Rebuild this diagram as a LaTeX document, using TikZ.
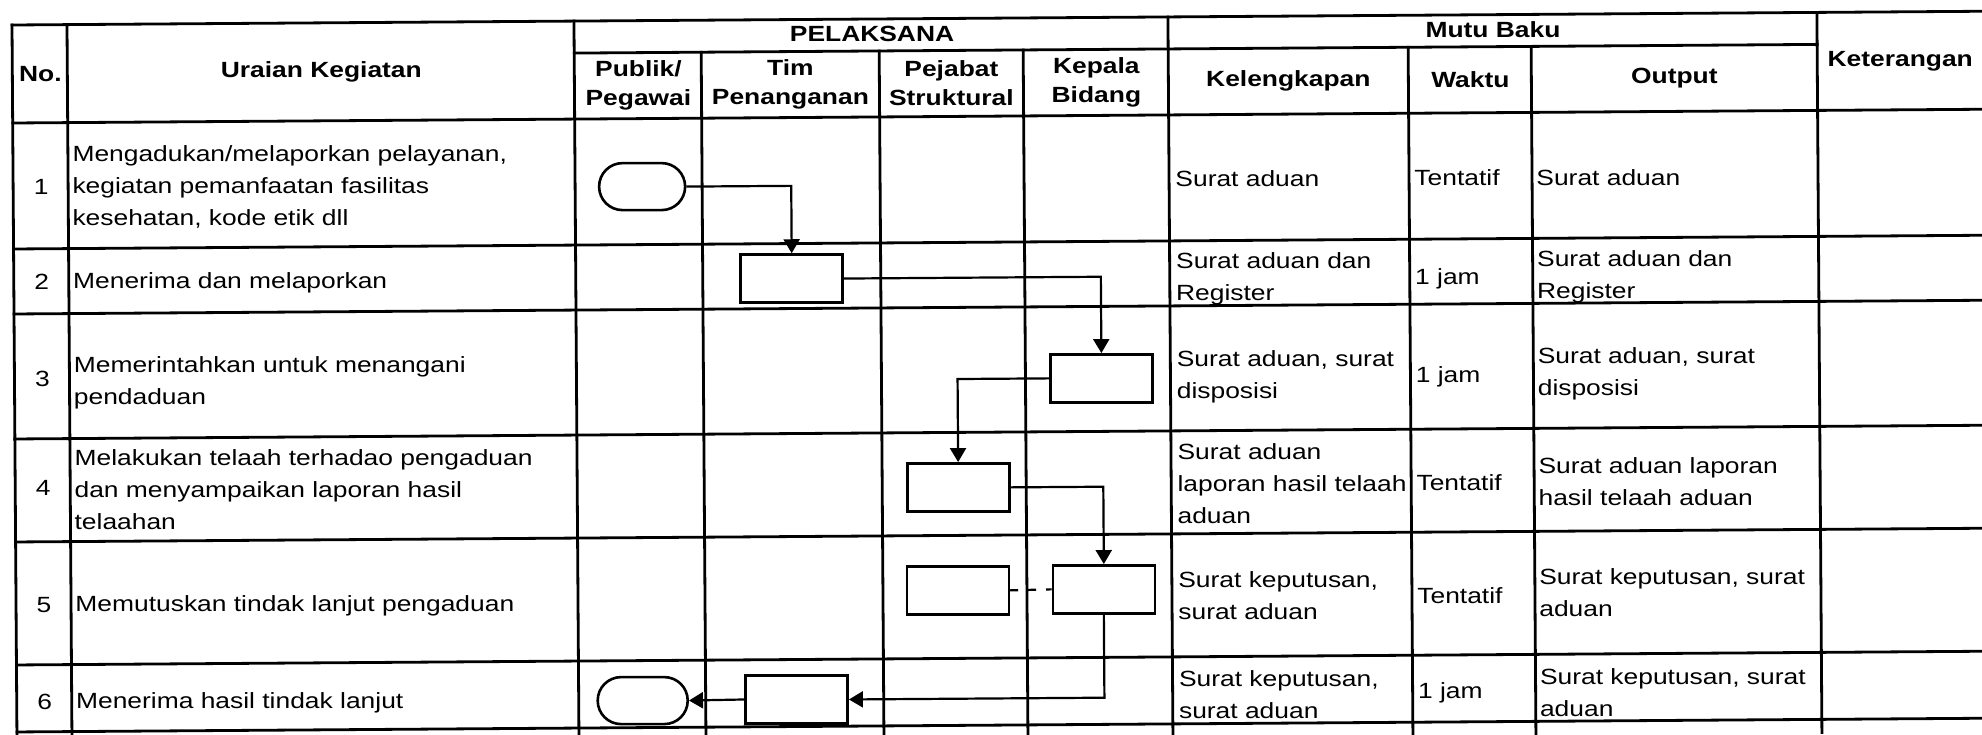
\documentclass[tikz,border=0pt]{standalone}
\usepackage{fontspec}
\setmainfont{Liberation Sans}[FakeStretch=1.2]
\usetikzlibrary{arrows.meta}
\tikzset{
  tline/.style={line width=1.4pt, line cap=rect},
  procbox/.style={draw, line width=1.3pt, minimum width=51pt, minimum height=24pt, inner sep=0pt},
  term/.style={draw, line width=1.3pt, minimum width=43pt, minimum height=23.5pt, rounded corners=11.7pt, inner sep=0pt},
  flow/.style={line width=1.1pt, -{Triangle[length=7pt,width=8pt]}},
  link/.style={line width=1.1pt, dash pattern=on 4pt off 5pt},
  hd/.style={font=\bfseries\fontsize{11}{14.5}\selectfont, align=center, inner sep=0pt},
  bd/.style={font=\fontsize{11}{16}\selectfont, align=left, anchor=west, inner sep=0pt},
  num/.style={font=\fontsize{11}{16}\selectfont, inner sep=0pt},
}
\begin{document}
\begin{tikzpicture}[x=0.5pt, y=-0.5pt]
\useasboundingbox (0,0) rectangle (1982,734);
\fill[white] (0,0) rectangle (1982,734);
\clip (0,0) rectangle (1982,734);
\begin{scope}[rotate around={0.4:(12,25)}]
% ---------- grid ----------
\foreach \yy in {25,123,249,314,439,542,665,732}
  \draw[tline] (12,\yy) -- (2010,\yy);
\draw[tline] (574,57) -- (1817,57);
\foreach \xx in {12,67,574,1168,1817}
  \draw[tline] (\xx,25) -- (\xx,745);
\foreach \xx in {701,879,1023,1408,1531}
  \draw[tline] (\xx,57) -- (\xx,745);
% ---------- header ----------
\node[hd] (hNo) at (40,74) {No.};
\node[hd] (hUr) at (321,74) {Uraian Kegiatan};
\node[hd] (hPel) at (872,40) {PELAKSANA};
\node[hd] (hPub) at (638,90) {Publik/\\Pegawai};
\node[hd] (hTim) at (790,90) {Tim\\Penanganan};
\node[hd] (hPej) at (951,90) {Pejabat\\Struktural};
\node[hd] (hKep) at (1096,90) {Kepala\\Bidang};
\node[hd] (hMutu) at (1493,40) {Mutu Baku};
\node[hd] (hKel) at (1288,90) {Kelengkapan};
\node[hd] (hWak) at (1470,90) {Waktu};
\node[hd] (hOut) at (1674,90) {Output};
\node[hd] (hKet) at (1900,74) {Keterangan};
% ---------- numbers ----------
\node[num] (n1) at (40,187) {1};
\node[num] (n2) at (40,282) {2};
\node[num] (n3) at (40,379) {3};
\node[num] (n4) at (40,488) {4};
\node[num] (n5) at (40,605) {5};
\node[num] (n6) at (40,702) {6};
% ---------- uraian ----------
\node[bd] (u1) at (71,187) {Mengadukan/melaporkan pelayanan,\\kegiatan pemanfaatan fasilitas\\kesehatan, kode etik dll};
\node[bd] (u2) at (71,283) {Menerima dan melaporkan};
\node[bd] (u3) at (71,383) {Memerintahkan untuk menangani\\pendaduan};
\node[bd] (u4) at (71,490) {Melakukan telaah terhadao pengaduan\\dan menyampaikan laporan hasil\\telaahan};
\node[bd] (u5) at (71,606) {Memutuskan tindak lanjut pengaduan};
\node[bd] (u6) at (71,703) {Menerima hasil tindak lanjut};
% ---------- kelengkapan ----------
\node[bd] (k1) at (1174,187) {Surat aduan};
\node[bd] (k2) at (1174,287) {Surat aduan dan\\Register};
\node[bd] (k3) at (1174,385) {Surat aduan, surat\\disposisi};
\node[bd] (k4) at (1174,492) {Surat aduan\\laporan hasil telaah\\aduan};
\node[bd] (k5) at (1174,604) {Surat keputusan,\\surat aduan};
\node[bd] (k6) at (1174,703) {Surat keputusan,\\surat aduan};
% ---------- waktu ----------
\node[bd] (w1) at (1413,187) {Tentatif};
\node[bd] (w2) at (1413,289) {1 jam};
\node[bd] (w3) at (1413,387) {1 jam};
\node[bd] (w4) at (1413,492) {Tentatif};
\node[bd] (w5) at (1413,605) {Tentatif};
\node[bd] (w6) at (1413,703) {1 jam};
% ---------- output ----------
\node[bd] (o1) at (1535,188) {Surat aduan};
\node[bd] (o2) at (1535,287) {Surat aduan dan\\Register};
\node[bd] (o3) at (1535,384) {Surat aduan, surat\\disposisi};
\node[bd] (o4) at (1535,492) {Surat aduan laporan\\hasil telaah aduan};
\node[bd] (o5) at (1535,603) {Surat keputusan, surat\\aduan};
\node[bd] (o6) at (1535,703) {Surat keputusan, surat\\aduan};
% ---------- flowchart ----------
\node[term] (t1) at (641,191) {};
\node[procbox] (b2) at (790,284) {};
\node[procbox] (b3) at (1099,386) {};
\node[procbox] (b4) at (955,494) {};
\node[procbox] (b5) at (1100,597) {};
\node[procbox] (b5p) at (954,597) {};
\node[procbox] (b6) at (792,705) {};
\node[term, minimum width=45pt] (t2) at (638,705) {};
\draw[flow] (t1.east) -| (b2.north);
\draw[flow] (b2.east) -| (b3.north);
\draw[flow] (b3.west) -| (b4.north);
\draw[flow] (b4.east) -| (b5.north);
\draw[link] (b5p.east) -- (b5.west);
\draw[flow] (b5.south) |- (b6.east);
\draw[flow] (b6.west) -- (t2.east);
\end{scope}
\end{tikzpicture}
\end{document}
